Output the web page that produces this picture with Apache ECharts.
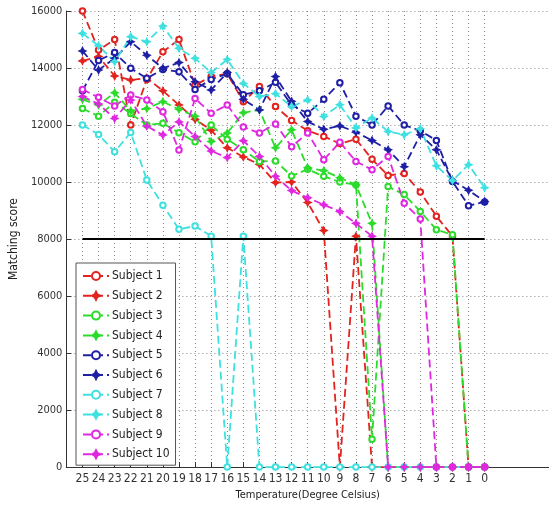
<!DOCTYPE html>
<html>
<head>
<meta charset="utf-8">
<script src="https://cdn.jsdelivr.net/npm/echarts@6/dist/echarts.min.js"></script>
<style>
html,body{margin:0;padding:0;background:#fff;}
#chart{width:549px;height:506px;}
</style>
</head>
<body>
<div id="chart"></div>
<script>
// Temperatures (x categories, left to right)
const TEMPS = [25,24,23,22,21,20,19,18,17,16,15,14,13,12,11,10,9,8,7,6,5,4,3,2,1,0];
// padding categories on either side of the plotted range (not labelled)
const PAD_LEFT = ['26'];
const PAD_RIGHT = ['-1','-2','-3','-4'];
const Y_TICKS = {min:0, max:16000, step:2000};
const THRESHOLD = 8000;

const subject1  = [16000,14630,15000,12000,13600,14570,15000,13400,13700,13800,12820,13350,12650,12160,11800,11600,11350,11500,10800,10230,10300,9650,8800,8100,0,0];
const subject2  = [14250,14400,13720,13580,13650,13200,12700,12200,11820,11200,10880,10620,9980,10000,9280,8300,0,8100,0,0,0,0,0,0,0,0];
const subject3  = [12580,12310,12800,12400,12000,12060,11730,11410,12000,11500,11130,10720,10740,10210,10450,10200,10000,9900,980,9840,9560,8970,8330,8150,0,0];
const subject4  = [12900,12700,13130,12500,12580,12820,12550,12310,11420,11720,12430,12530,11200,11830,10500,10400,10150,9900,8550,0,0,0,0,0,0,0];
const subject5  = [13200,14260,14540,13990,13640,13950,13870,13250,13600,13800,13060,13200,13500,12700,12410,12900,13480,12310,12000,12670,12000,11800,11460,10020,9170,9300];
const subject6  = [14600,13930,14340,14920,14450,13990,14190,13520,13230,13840,12900,12530,13700,12830,12120,11850,11970,11750,11460,11130,10540,11660,11130,10050,9710,9320];
const subject7  = [12000,11670,11060,11740,10070,9190,8340,8460,8100,0,8100,0,0,0,0,0,0,0,0,0,0,0,0,0,0,0];
const subject8  = [15215,14780,14220,15100,14920,15470,14690,14340,13840,14300,13460,13000,13100,12650,12880,12300,12710,11900,12250,11770,11660,11870,10570,10050,10610,9800];
const subject9  = [13250,12970,12670,13050,12880,12470,11120,12930,12410,12700,11930,11720,12040,11240,11720,10780,11400,10720,10430,10900,9260,8700,0,0,0,0];
const subject10 = [13000,12740,12230,12880,11960,11650,12110,11600,11090,10860,11450,10900,10200,9700,9450,9200,8970,8550,8100,0,0,0,0,0,0,0];

const NAMES = ['Subject 1','Subject 2','Subject 3','Subject 4','Subject 5','Subject 6','Subject 7','Subject 8','Subject 9','Subject 10'];
const VALUES = [subject1,subject2,subject3,subject4,subject5,subject6,subject7,subject8,subject9,subject10];
const COLORS = ['#e3231f','#e3231f','#2bdc2b','#2bdc2b','#1f1fa6','#1f1fa6','#3fe0e0','#3fe0e0','#e028e0','#e028e0'];

const STAR = 'path://M0,-10 L3.4,-3.4 L10,0 L3.4,3.4 L0,10 L-3.4,3.4 L-10,0 L-3.4,-3.4 Z';
const FONT = "'Liberation Sans Narrow','DejaVu Sans Condensed','Liberation Sans',sans-serif";

const categories = PAD_LEFT.concat(TEMPS.map(String), PAD_RIGHT);
const isReal = (v) => PAD_LEFT.indexOf(String(v)) < 0 && PAD_RIGHT.indexOf(String(v)) < 0;
const realIdx = (idx, v) => isReal(v);

const series = VALUES.map((vals, i) => {
  const star = i % 2 === 1;
  return {
    name: NAMES[i],
    type: 'line',
    data: vals.map((v, k) => [String(TEMPS[k]), v]),
    symbol: star ? STAR : 'emptyCircle',
    symbolSize: star ? 7 : 5.5,
    showAllSymbol: true,
    color: COLORS[i],
    lineStyle: {color: COLORS[i], width: 1.8, type: [8, 4]},
    itemStyle: {color: COLORS[i], borderColor: COLORS[i], borderWidth: 1.3},
    emphasis: {disabled: true},
    animation: false,
    z: 3
  };
});

series.push({
  name: 'threshold',
  type: 'line',
  data: TEMPS.map(t => [String(t), THRESHOLD]),
  symbol: 'none',
  lineStyle: {color: '#000', width: 2, type: 'solid'},
  z: 4,
  animation: false,
  silent: true
});

const chart = echarts.init(document.getElementById('chart'), null, {renderer: 'canvas'});
chart.setOption({
  backgroundColor: '#fff',
  animation: false,
  grid: {left: 52, right: 0, top: 11, bottom: 38, containLabel: false},
  legend: {
    data: NAMES,
    orient: 'vertical',
    left: 76,
    top: 263,
    z: 10,
    padding: [7, 6, 5, 6],
    itemGap: 7.8,
    itemWidth: 26,
    itemHeight: 10,
    backgroundColor: '#fff',
    borderColor: '#555',
    borderWidth: 1,
    textStyle: {fontFamily: FONT, fontSize: 12, color: '#222', padding: [0,0,0,-2]}
  },
  xAxis: {
    type: 'category',
    data: categories,
    boundaryGap: false,
    name: 'Temperature(Degree Celsius)',
    nameLocation: 'middle',
    nameGap: 21,
    nameTextStyle: {fontFamily: FONT, fontSize: 11, color: '#222'},
    axisLine: {show: true, lineStyle: {color: '#333', width: 1}},
    axisTick: {show: true, inside: true, length: 5, interval: realIdx, lineStyle: {color: '#333'}},
    axisLabel: {interval: realIdx, fontFamily: FONT, fontSize: 12, color: '#333', margin: 6,
      formatter: (v) => isReal(v) ? v : ''},
    splitLine: {show: true, interval: realIdx, lineStyle: {color: '#888', type: [1, 3], width: 1}}
  },
  yAxis: {
    type: 'value',
    min: Y_TICKS.min,
    max: Y_TICKS.max,
    interval: Y_TICKS.step,
    name: 'Matching score',
    nameLocation: 'middle',
    nameGap: 34,
    nameTextStyle: {fontFamily: FONT, fontSize: 12, color: '#222'},
    axisLine: {show: true, lineStyle: {color: '#333', width: 1}},
    axisTick: {show: true, inside: true, length: 5, lineStyle: {color: '#333'}},
    axisLabel: {fontFamily: FONT, fontSize: 11, color: '#333', margin: 4, formatter: (v) => String(v)},
    splitLine: {show: true, lineStyle: {color: '#888', type: [1, 3], width: 1}}
  },
  series: series
});
</script>
</body>
</html>
